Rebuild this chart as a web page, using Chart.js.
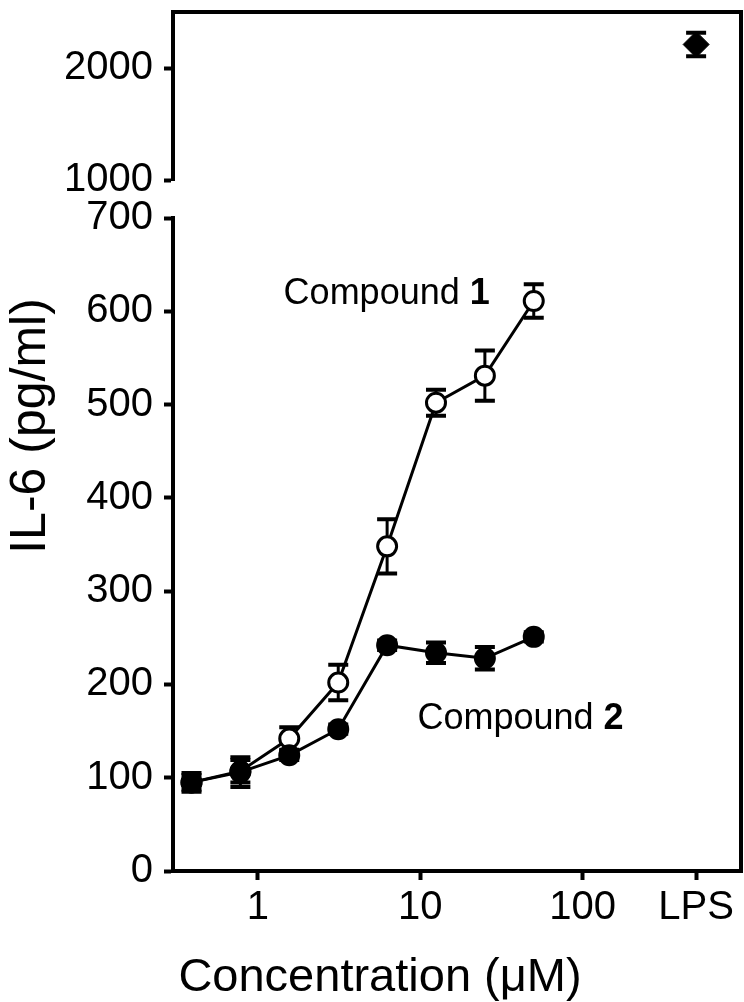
<!DOCTYPE html>
<html>
  <head>
    <meta charset="utf-8" />
    <title>IL-6 vs Concentration</title>
    <style>
      body { margin: 0; background: #fff; }
      #wrap { position: relative; width: 744px; height: 1002px; }
      #wrap canvas { position: absolute; left: 0; top: 0; }
    </style>
  </head>
  <body>
    <div id="wrap">
      <canvas id="lower" width="744" height="1002"></canvas>
      <canvas id="upper" width="744" height="1002"></canvas>
    </div>
    <script src="https://cdn.jsdelivr.net/npm/chart.js@4.4.0/dist/chart.umd.min.js"></script>
    <script>
      // concentrations in uM
      const concentrations = [0.39, 0.78, 1.56, 3.125, 6.25, 12.5, 25, 50];
      const compound1 = [95, 107, 142, 202, 348, 502, 531, 611];
      const compound1Err = [8, 12, 12, 19, 29, 14, 27, 18];
      const compound2 = [95, 106, 124, 152, 242, 234, 228, 251];
      const compound2Err = [10, 16, 5, 5, 5, 11, 12, 5];
      // LPS control is placed on the log axis at x = 500
      const lpsX = [500];
      const lpsValue = [2210];
      const lpsErr = [105];

      const xTickValues = [1, 10, 100, 500];
      const xTickLabels = ["1", "10", "100", "LPS"];
      const yTicksLower = [0, 100, 200, 300, 400, 500, 600, 700];
      const yTicksUpper = [1000, 2000];
      const seriesNames = ["Compound ", "Compound "];
      const seriesNumbers = ["1", "2"];

      const FONT = 'Arial, "Liberation Sans", Helvetica, sans-serif';
      Chart.defaults.font.family = FONT;
      Chart.defaults.font.size = 40;
      Chart.defaults.color = "#000";

      const AXIS_W = 173;
      const tickGrid = {
        display: true,
        drawOnChartArea: false,
        tickLength: 9,
        tickWidth: 4,
        tickColor: "#000",
      };
      const axisBorder = { display: true, width: 4, color: "#000" };

      function xScaleOptions(show) {
        return {
          type: "logarithmic",
          min: 0.316,
          max: 945,
          display: show,
          afterBuildTicks: (s) => {
            s.ticks = xTickValues.map((v) => ({ value: v }));
          },
          afterFit: (s) => {
            if (show) s.height = 131;
            s.paddingLeft = 0;
            s.paddingRight = 0;
          },
          ticks: {
            autoSkip: false,
            maxRotation: 0,
            padding: 4,
            callback: (v) => xTickLabels[xTickValues.indexOf(v)],
          },
          grid: tickGrid,
          border: axisBorder,
        };
      }

      function yScaleOptions(min, max, tickList) {
        return {
          type: "linear",
          min: min,
          max: max,
          afterBuildTicks: (s) => {
            s.ticks = tickList.map((v) => ({ value: v }));
          },
          afterFit: (s) => {
            s.width = AXIS_W;
            s.paddingTop = 0;
            s.paddingBottom = 0;
          },
          ticks: { padding: 11, callback: (v) => String(v) },
          grid: tickGrid,
          border: axisBorder,
        };
      }

      function drawErrors(chart, xs, ys, errs) {
        const ctx = chart.ctx;
        const sx = chart.scales.x;
        const sy = chart.scales.y;
        ctx.save();
        ctx.strokeStyle = "#000";
        for (let i = 0; i < xs.length; i++) {
          const px = sx.getPixelForValue(xs[i]);
          const top = sy.getPixelForValue(ys[i] + errs[i]);
          const bot = sy.getPixelForValue(ys[i] - errs[i]);
          ctx.lineWidth = 3;
          ctx.beginPath();
          ctx.moveTo(px, top);
          ctx.lineTo(px, bot);
          ctx.stroke();
          ctx.lineWidth = 4;
          ctx.beginPath();
          ctx.moveTo(px - 10, top);
          ctx.lineTo(px + 10, top);
          ctx.moveTo(px - 10, bot);
          ctx.lineTo(px + 10, bot);
          ctx.stroke();
        }
        ctx.restore();
      }

      const lowerPlugin = {
        id: "lowerExtras",
        beforeDatasetsDraw(chart) {
          drawErrors(chart, concentrations, compound1, compound1Err);
          drawErrors(chart, concentrations, compound2, compound2Err);
        },
        afterDraw(chart) {
          const ctx = chart.ctx;
          const a = chart.chartArea;
          const sx = chart.scales.x;
          const sy = chart.scales.y;
          ctx.save();
          // right frame line
          ctx.strokeStyle = "#000";
          ctx.lineWidth = 4;
          ctx.beginPath();
          ctx.moveTo(a.right, a.top - 2);
          ctx.lineTo(a.right, a.bottom + 2);
          ctx.stroke();

          ctx.fillStyle = "#000";
          // series labels
          const labelAt = [
            [1.44, 608],
            [9.6, 152],
          ];
          for (let i = 0; i < 2; i++) {
            const lx = sx.getPixelForValue(labelAt[i][0]);
            const ly = sy.getPixelForValue(labelAt[i][1]);
            ctx.textAlign = "left";
            ctx.textBaseline = "alphabetic";
            ctx.font = "36px " + FONT;
            ctx.fillText(seriesNames[i], lx, ly);
            const w = ctx.measureText(seriesNames[i]).width;
            ctx.font = "bold 36px " + FONT;
            ctx.fillText(seriesNumbers[i], lx + w, ly);
          }

          // axis titles
          ctx.font = "47px " + FONT;
          ctx.textAlign = "center";
          ctx.fillText("Concentration (\u03bcM)", a.left + 207, 991);
          ctx.font = "50px " + FONT;
          ctx.translate(45, 426);
          ctx.rotate(-Math.PI / 2);
          ctx.fillText("IL-6 (pg/ml)", 0, 0);
          ctx.restore();
        },
      };

      const upperPlugin = {
        id: "upperExtras",
        afterDatasetsDraw(chart) {
          drawErrors(chart, lpsX, lpsValue, lpsErr);
        },
        afterDraw(chart) {
          const ctx = chart.ctx;
          const a = chart.chartArea;
          ctx.save();
          ctx.strokeStyle = "#000";
          ctx.lineWidth = 4;
          ctx.beginPath();
          ctx.moveTo(a.left - 2, a.top);
          ctx.lineTo(a.right + 2, a.top);
          ctx.moveTo(a.right, a.top);
          ctx.lineTo(a.right, a.bottom + 40);
          ctx.stroke();
          ctx.restore();
        },
      };

      const common = {
        responsive: false,
        animation: false,
        events: [],
        plugins: { legend: { display: false }, tooltip: { enabled: false } },
      };

      new Chart(document.getElementById("lower").getContext("2d"), {
        type: "line",
        data: {
          datasets: [
            {
              label: "Compound 2",
              data: concentrations.map((c, i) => ({ x: c, y: compound2[i] })),
              borderColor: "#000",
              borderWidth: 3,
              tension: 0,
              pointRadius: 10,
              pointBorderWidth: 2,
              pointBackgroundColor: "#000",
              pointBorderColor: "#000",
              order: 0,
            },
            {
              label: "Compound 1",
              data: concentrations.map((c, i) => ({ x: c, y: compound1[i] })),
              borderColor: "#000",
              borderWidth: 3,
              tension: 0,
              pointRadius: 9.5,
              pointBorderWidth: 3,
              pointBackgroundColor: "#fff",
              pointBorderColor: "#000",
              order: 1,
            },
          ],
        },
        options: Object.assign({}, common, {
          layout: {
            autoPadding: false,
            padding: { top: 218, right: 3, left: 0, bottom: 0 },
          },
          scales: {
            x: xScaleOptions(true),
            y: yScaleOptions(0, 700, yTicksLower),
          },
        }),
        plugins: [lowerPlugin],
      });

      new Chart(document.getElementById("upper").getContext("2d"), {
        type: "line",
        data: {
          datasets: [
            {
              label: "LPS",
              data: lpsX.map((c, i) => ({ x: c, y: lpsValue[i] })),
              showLine: false,
              pointStyle: "rectRot",
              pointRadius: 13,
              pointBorderWidth: 1,
              pointBackgroundColor: "#000",
              pointBorderColor: "#000",
            },
          ],
        },
        options: Object.assign({}, common, {
          layout: {
            autoPadding: false,
            padding: { top: 12, right: 3, left: 0, bottom: 822 },
          },
          scales: {
            x: xScaleOptions(false),
            y: yScaleOptions(1000, 2500, yTicksUpper),
          },
        }),
        plugins: [upperPlugin],
      });
    </script>
  </body>
</html>
